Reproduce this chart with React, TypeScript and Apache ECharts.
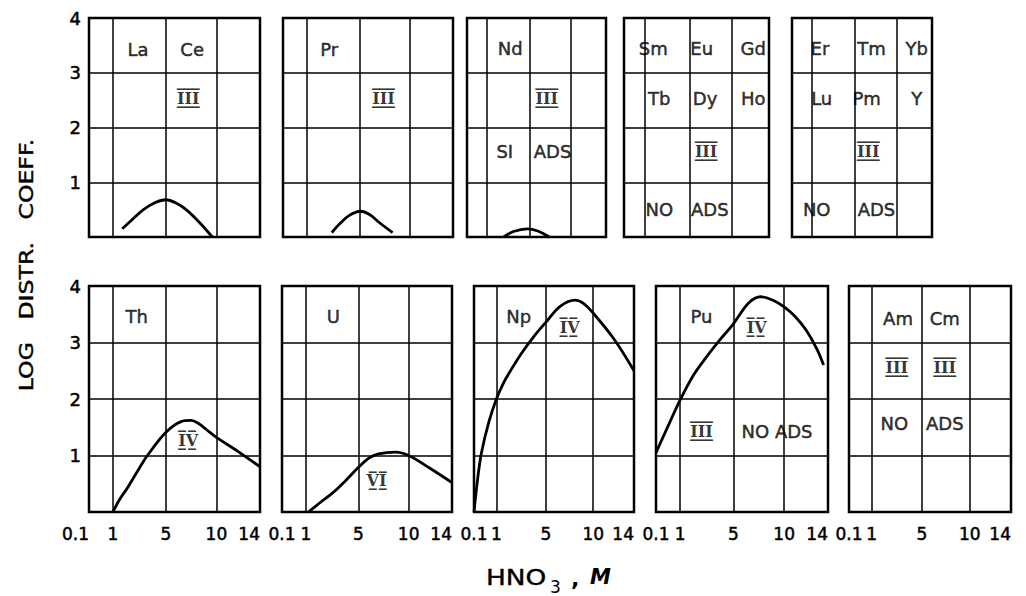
import React, { useEffect, useRef } from "react";
import * as echarts from "echarts";

// ---- axis ticks ----
const xTickValues = [0.1, 1, 5, 10, 14]; // HNO3, M
const xTickLabels = ["0.1", "1", "5", "10", "14"];
const yTickLabels = ["", "1", "2", "3", "4"]; // log distr. coeff.

// ---- curves (HNO3 molarity, log distribution coefficient) ----
const laCeM = [1.7, 2.5, 3.3, 4.2, 5, 6, 7, 8.3, 9.6];
const laCeLogD = [0.15, 0.33, 0.5, 0.63, 0.68, 0.62, 0.5, 0.27, 0];
const prM = [2.9, 3.5, 4.2, 5.1, 6, 7, 8.3];
const prLogD = [0.08, 0.24, 0.39, 0.47, 0.41, 0.26, 0.08];
const ndM = [2.6, 3.5, 4.8, 6, 7.4];
const ndLogD = [0, 0.1, 0.15, 0.11, 0];
const thM = [1, 1.5, 2.1, 3, 3.6, 5, 6.5, 7.5, 8.2, 9, 10, 12, 14];
const thLogD = [0, 0.22, 0.43, 0.78, 1.0, 1.41, 1.6, 1.62, 1.57, 1.46, 1.32, 1.07, 0.8];
const uM = [1.2, 2, 3.2, 4, 5, 6, 7, 8.7, 10, 12, 14];
const uLogD = [0, 0.15, 0.37, 0.55, 0.79, 0.95, 1.03, 1.06, 1.0, 0.77, 0.52];
const npM = [0.1, 0.25, 0.4, 0.7, 1, 1.5, 2, 3, 4, 5, 6.5, 8.1, 9, 10, 12, 14];
const npLogD = [0, 0.6, 1.05, 1.6, 2.0, 2.25, 2.45, 2.8, 3.1, 3.36, 3.64, 3.75, 3.69, 3.52, 3.07, 2.5];
const puM = [0.1, 0.55, 1, 2, 3, 4, 5, 6.5, 7.7, 9, 10, 11, 12, 13, 13.6];
const puLogD = [1.05, 1.52, 1.98, 2.42, 2.75, 3.05, 3.33, 3.7, 3.81, 3.74, 3.63, 3.46, 3.22, 2.88, 2.6];

// ---- annotations (text, HNO3 M, log D) ----
const R3 = "I\u0332\u0305I\u0332\u0305I\u0332\u0305";
const R4 = "I\u0332\u0305V\u0332\u0305";
const R6 = "V\u0332\u0305I\u0332\u0305";
const laCeText = ["La", "Ce", R3];
const laCeTextM = [2.9, 7.6, 7.2];
const laCeTextY = [3.42, 3.42, 2.53];
const prText = ["Pr", R3];
const prTextM = [2.7, 7.4];
const prTextY = [3.42, 2.53];
const ndText = ["Nd", R3, "SI", "ADS"];
const ndTextM = [3.2, 7.1, 2.7, 7.8];
const ndTextY = [3.45, 2.53, 1.56, 1.56];
const smText = ["Sm", "Eu", "Gd", "Tb", "Dy", "Ho", R3, "NO", "ADS"];
const smTextM = [1.8, 6.46, 12.3, 2.33, 6.85, 12.3, 6.97, 2.33, 7.4];
const smTextY = [3.45, 3.45, 3.45, 2.53, 2.53, 2.53, 1.56, 0.51, 0.51];
const erText = ["Er", "Tm", "Yb", "Lu", "Pm", "Y", R3, "NO", "ADS"];
const erTextM = [1.77, 7.0, 12.3, 1.93, 6.4, 12.3, 6.6, 1.47, 7.6];
const erTextY = [3.45, 3.45, 3.45, 2.53, 2.53, 2.53, 1.56, 0.51, 0.51];
const thText = ["Th", R4];
const thTextM = [2.8, 7.2];
const thTextY = [3.46, 1.27];
const uText = ["U", R6];
const uTextM = [3.1, 6.8];
const uTextY = [3.46, 0.55];
const npText = ["Np", R4];
const npTextM = [2.8, 7.5];
const npTextY = [3.46, 3.26];
const puText = ["Pu", R4, R3, "NO ADS"];
const puTextM = [2.6, 7.3, 2.6, 9.3];
const puTextY = [3.46, 3.26, 1.42, 1.42];
const amText = ["Am", "Cm", R3, R3, "NO", "ADS"];
const amTextM = [3.1, 7.4, 3.0, 7.4, 2.8, 7.4];
const amTextY = [3.43, 3.43, 2.56, 2.56, 1.57, 1.57];

// hand-drawn grid: where each x tick sits across a panel (percent of width)
const TICK_FRACTIONS = [0, 14, 45, 74.5, 100];

function xPos(m: number): number {
  for (let i = 0; i < xTickValues.length - 1; i++) {
    const a = xTickValues[i];
    const b = xTickValues[i + 1];
    if (m <= b || i === xTickValues.length - 2) {
      const t = (m - a) / (b - a);
      return TICK_FRACTIONS[i] + t * (TICK_FRACTIONS[i + 1] - TICK_FRACTIONS[i]);
    }
  }
  return 100;
}

function posLabel(v: number): string {
  for (let i = 0; i < TICK_FRACTIONS.length; i++) {
    if (Math.abs(TICK_FRACTIONS[i] - v) < 0.01) return xTickLabels[i];
  }
  return "";
}

const FONT = '"DejaVu Sans", "Liberation Sans", sans-serif';
const HEAVY = { textBorderColor: "#000", textBorderWidth: 0.5 };

const panelRects = [
  { left: 89, top: 18, width: 171, height: 219 },
  { left: 283, top: 18, width: 170, height: 219 },
  { left: 467, top: 18, width: 139, height: 219 },
  { left: 624, top: 18, width: 145, height: 219 },
  { left: 792, top: 18, width: 140, height: 219 },
  { left: 89, top: 286, width: 171, height: 226 },
  { left: 282, top: 286, width: 170, height: 226 },
  { left: 474, top: 286, width: 160, height: 226 },
  { left: 656, top: 286, width: 172, height: 226 },
  { left: 849, top: 286, width: 162, height: 226 },
];

const panelCurves: (null | [number[], number[]])[] = [
  [laCeM, laCeLogD],
  [prM, prLogD],
  [ndM, ndLogD],
  null,
  null,
  [thM, thLogD],
  [uM, uLogD],
  [npM, npLogD],
  [puM, puLogD],
  null,
];

const panelTexts: [string[], number[], number[]][] = [
  [laCeText, laCeTextM, laCeTextY],
  [prText, prTextM, prTextY],
  [ndText, ndTextM, ndTextY],
  [smText, smTextM, smTextY],
  [erText, erTextM, erTextY],
  [thText, thTextM, thTextY],
  [uText, uTextM, uTextY],
  [npText, npTextM, npTextY],
  [puText, puTextM, puTextY],
  [amText, amTextM, amTextY],
];

const isRoman = (t: string) => t.indexOf("\u0305") >= 0;

function buildOption() {
  const grid: any[] = [];
  const xAxis: any[] = [];
  const yAxis: any[] = [];
  const series: any[] = [];

  panelRects.forEach((r, i) => {
    const bottomRow = i >= 5;
    const firstCol = i === 0 || i === 5;
    grid.push({
      left: r.left,
      top: r.top,
      width: r.width,
      height: r.height,
      show: true,
      borderColor: "#000",
      borderWidth: 2.5,
      backgroundColor: "transparent",
      containLabel: false,
    });
    xAxis.push({
      type: "value",
      gridIndex: i,
      min: 0,
      max: 100,
      axisLine: { show: false },
      axisTick: { show: false, customValues: TICK_FRACTIONS },
      splitLine: { show: true, lineStyle: { color: "#000", width: 1.5 } },
      axisLabel: {
        show: bottomRow,
        customValues: TICK_FRACTIONS,
        formatter: (v: number) => posLabel(v),
        color: "#000",
        fontFamily: FONT,
        fontSize: 17,
        margin: 13,
        alignMaxLabel: "right",
        alignMinLabel: i === 5 ? "right" : "center",
        hideOverlap: false,
        ...HEAVY,
      },
    });
    yAxis.push({
      type: "value",
      gridIndex: i,
      min: 0,
      max: 4,
      interval: 1,
      axisLine: { show: false },
      axisTick: { show: false },
      splitLine: { show: true, lineStyle: { color: "#000", width: 1.5 } },
      axisLabel: {
        show: firstCol,
        formatter: (v: number) => yTickLabels[Math.round(v)] ?? "",
        color: "#000",
        fontFamily: FONT,
        fontSize: 18,
        margin: 8,
        ...HEAVY,
      },
    });

    const curve = panelCurves[i];
    if (curve) {
      const [ms, ys] = curve;
      series.push({
        type: "line",
        xAxisIndex: i,
        yAxisIndex: i,
        data: ms.map((m, k) => [xPos(m), ys[k]]),
        smooth: 0.35,
        symbol: "none",
        lineStyle: { color: "#000", width: 2.8 },
        clip: true,
        silent: true,
        z: 5,
      });
    }

    const [txt, tm, ty] = panelTexts[i];
    series.push({
      type: "scatter",
      xAxisIndex: i,
      yAxisIndex: i,
      symbolSize: 1,
      itemStyle: { color: "rgba(0,0,0,0)" },
      silent: true,
      data: txt.map((t, k) => ({
        name: t,
        value: [xPos(tm[k]), ty[k]],
        label: isRoman(t)
          ? { fontFamily: '"DejaVu Serif", serif', fontWeight: "bold", fontSize: 16, textBorderWidth: 0 }
          : undefined,
      })),
      label: {
        show: true,
        position: "inside",
        formatter: "{b}",
        color: "#000",
        fontFamily: FONT,
        fontSize: 18,
        ...HEAVY,
      },
      z: 6,
    });
  });

  const graphic: any[] = [
    {
      type: "text",
      x: 26,
      y: 265,
      rotation: Math.PI / 2,
      scaleX: 1.18,
      style: {
        text: "LOG   DISTR.   COEFF.",
        font: `20px ${FONT}`,
        fill: "#000",
        stroke: "#000",
        lineWidth: 0.4,
        align: "center",
        verticalAlign: "middle",
      },
    },
    {
      type: "text",
      x: 486,
      y: 577,
      scaleX: 1.2,
      style: { text: "HNO", font: `22px ${FONT}`, fill: "#000", stroke: "#000", lineWidth: 0.4, align: "left", verticalAlign: "middle" },
    },
    {
      type: "text",
      x: 550,
      y: 587,
      style: { text: "3", font: `17px ${FONT}`, fill: "#000", align: "left", verticalAlign: "middle" },
    },
    {
      type: "text",
      x: 571,
      y: 578,
      style: { text: ",", font: `bold 22px ${FONT}`, fill: "#000", align: "left", verticalAlign: "middle" },
    },
    {
      type: "text",
      x: 590,
      y: 577,
      style: { text: "M", font: `italic bold 21px ${FONT}`, fill: "#000", align: "left", verticalAlign: "middle" },
    },
  ];

  return {
    animation: false,
    backgroundColor: "#fff",
    grid,
    xAxis,
    yAxis,
    series,
    graphic,
  };
}

export default function App() {
  const ref = useRef<HTMLDivElement>(null);
  useEffect(() => {
    document.body.style.margin = "0";
    if (!ref.current) return;
    const chart = echarts.init(ref.current, undefined, { renderer: "svg" });
    chart.setOption(buildOption() as any);
    return () => chart.dispose();
  }, []);
  return <div ref={ref} style={{ width: 1026, height: 596 }} />;
}
